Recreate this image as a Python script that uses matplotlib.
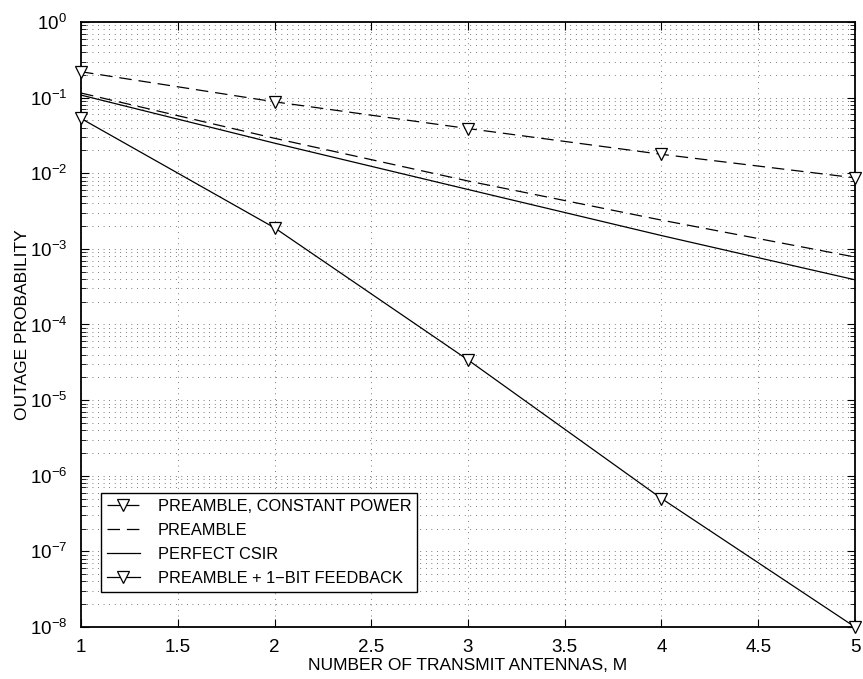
import matplotlib.pyplot as plt
import numpy as np

plt.rcParams['font.family'] = ['Liberation Sans', 'DejaVu Sans']
plt.rcParams['mathtext.fontset'] = 'custom'
plt.rcParams['mathtext.rm'] = 'Liberation Sans'
plt.rcParams['mathtext.it'] = 'Liberation Sans'

# number of transmit antennas
M = [1, 2, 3, 4, 5]

# outage probability for each scheme
p_const_power = [0.22, 0.088, 0.039, 0.0178, 0.0087]
p_preamble = [0.115, 0.029, 0.0079, 0.0024, 7.8e-4]
p_perfect_csir = [0.108, 0.025, 0.0061, 0.0015, 3.9e-4]
p_one_bit = [0.053, 0.0019, 3.4e-5, 5.0e-7, 1.0e-8]

x_ticks = [1, 1.5, 2, 2.5, 3, 3.5, 4, 4.5, 5]
x_tick_labels = ['1', '1.5', '2', '2.5', '3', '3.5', '4', '4.5', '5']

fig = plt.figure(figsize=(8.63, 6.79), dpi=100)
ax = fig.add_axes([0.0939, 0.0766, 0.8968, 0.891])

dash = (0, (10, 5.5))
ax.semilogy(M, p_const_power, color='black', linestyle=dash, linewidth=0.9,
            marker='v', markersize=9, markerfacecolor='white', markeredgecolor='black',
            markeredgewidth=0.9, label='PREAMBLE, CONSTANT POWER', clip_on=False, zorder=3)
ax.semilogy(M, p_preamble, color='black', linestyle=dash, linewidth=0.9,
            label='PREAMBLE', zorder=3)
ax.semilogy(M, p_perfect_csir, color='black', linestyle='-', linewidth=0.9,
            label='PERFECT CSIR', zorder=3)
ax.semilogy(M, p_one_bit, color='black', linestyle='-', linewidth=0.9,
            marker='v', markersize=9, markerfacecolor='white', markeredgecolor='black',
            markeredgewidth=0.9, label='PREAMBLE + 1\u2212BIT FEEDBACK', clip_on=False, zorder=3)

ax.set_xlim(1, 5)
ax.set_ylim(1e-8, 1)
ax.set_xticks(x_ticks)
ax.set_xticklabels(x_tick_labels)
ax.set_yticks([10.0 ** k for k in range(-8, 1)])

# MATLAB-like dotted grid
ax.grid(True, which='major', axis='both', color='black', linestyle=(0, (1, 7)), linewidth=0.5)
ax.grid(True, which='minor', axis='y', color='black', linestyle=(0, (1, 7)), linewidth=0.5)

ax.tick_params(which='both', direction='in', top=True, right=True, labelsize=13.5)
ax.tick_params(which='major', length=6, width=0.8)
ax.tick_params(which='minor', length=3.5, width=0.6)
ax.tick_params(axis='x', which='major', pad=9)
ax.tick_params(axis='y', which='major', pad=10)
for s in ax.spines.values():
    s.set_linewidth(1.3)

ax.set_xlabel('NUMBER OF TRANSMIT ANTENNAS, M', fontsize=12.5, labelpad=1)
ax.set_ylabel('OUTAGE PROBABILITY', fontsize=12.5, labelpad=0)

leg = ax.legend(loc='lower left', bbox_to_anchor=(0.026, 0.058), fontsize=11.8,
                frameon=True, fancybox=False, edgecolor='black', framealpha=1,
                handlelength=2.0, handletextpad=1.1, labelspacing=0.55,
                borderpad=0.35, borderaxespad=0)
leg.get_frame().set_linewidth(1.0)

fig.savefig('out.png', dpi=100)
